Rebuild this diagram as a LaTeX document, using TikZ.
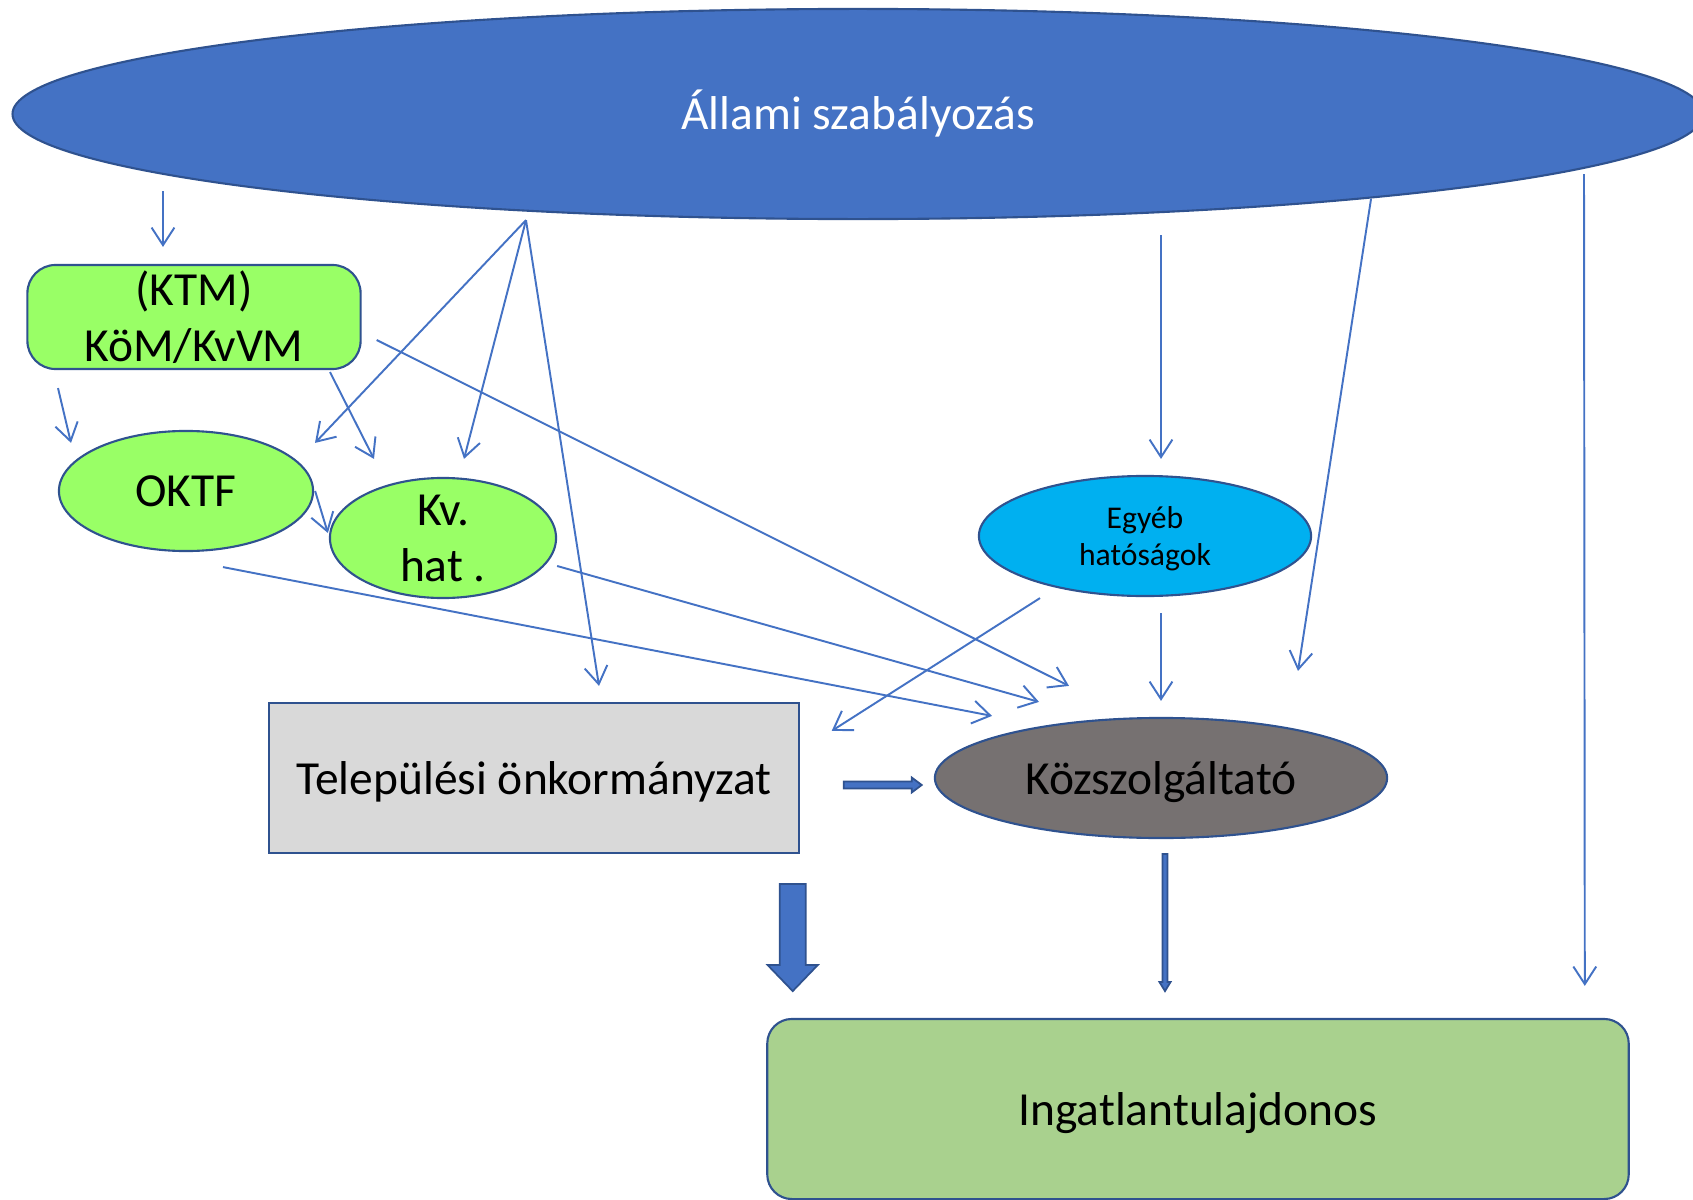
\documentclass[tikz,border=0pt]{standalone}
\usepackage{fontspec}
\setmainfont{Carlito}
\usetikzlibrary{shapes.geometric}
\usetikzlibrary{arrows.meta}
\definecolor{allamic}{HTML}{4472C4}
\definecolor{edgec}{HTML}{2F528F}
\definecolor{hatosagc}{HTML}{99FF66}
\definecolor{egyebc}{HTML}{00B0F0}
\definecolor{onkormc}{HTML}{D9D9D9}
\definecolor{kozszolgc}{HTML}{767171}
\definecolor{ingatlanc}{HTML}{A9D18E}

\begin{document}
\begin{tikzpicture}[x=0.01cm,y=-0.01cm,
  ell/.style={ellipse,draw=edgec,line width=0.6pt,inner sep=-2pt,align=center,font=\fontsize{13.5}{16}\selectfont},
  box/.style={draw=edgec,line width=0.6pt,inner sep=0pt,align=center,font=\fontsize{13.5}{16}\selectfont},
  arr/.style={allamic,line width=0.55pt,-{Straight Barb[length=5pt,width=6.5pt]}},
  blockarr/.style={fill=allamic,draw=edgec,line width=0.5pt}]
\clip (0,0) rectangle (1693,1200);

\node[ell,fill=allamic,text=white,minimum width=16.9cm,minimum height=2.1cm] (allami) at (858,114) {Állami szabályozás};
\node[box,fill=hatosagc,rounded corners=8pt,minimum width=3.33cm,minimum height=1.04cm] (ktm) at (194,317) {(KTM)\\KöM/KvVM};
\node[ell,fill=hatosagc,minimum width=2.54cm,minimum height=1.2cm] (oktf) at (186,491) {OKTF};
\node[ell,fill=hatosagc,text depth=0pt,minimum width=2.26cm,minimum height=1.2cm] (kvhat) at (443,538) {Kv.\\hat .};
\node[ell,fill=egyebc,text depth=0pt,minimum width=3.32cm,minimum height=1.2cm,font=\fontsize{9}{10.8}\selectfont] (egyeb) at (1145,536) {Egyéb\\hatóságok};
\node[box,fill=onkormc,text depth=0pt,minimum width=5.29cm,minimum height=1.5cm] (onkorm) at (534,778) {Települési önkormányzat};
\node[ell,fill=kozszolgc,text depth=0pt,minimum width=4.52cm,minimum height=1.2cm] (kozszolg) at (1161,778) {Közszolgáltató};
\node[box,fill=ingatlanc,text depth=0pt,rounded corners=7pt,minimum width=8.61cm,minimum height=1.8cm] (ingatlan) at (1198,1109) {Ingatlantulajdonos};

\coordinate (apex) at ([shift={(-332,0)}]allami.south);
\draw[arr] ([shift={(-695,-29)}]allami.south) -- ([shift={(-31,-17)}]ktm.north);
\draw[arr] (apex) -- ([shift={(129,13)}]oktf.north);
\draw[arr] (apex) -- ([shift={(21,-18)}]kvhat.north);
\draw[arr] (apex) -- ([shift={(65,-16)}]onkorm.north);
\draw[arr] ([shift={(-136,18)}]ktm.south) -- ([shift={(-115,13)}]oktf.north);
\draw[arr] ([shift={(136,2)}]ktm.south) -- ([shift={(-69,-18)}]kvhat.north);
\draw[arr] ([shift={(15,23)}]ktm.east) -- ([shift={(-92,-31)}]kozszolg.north);
\draw[arr] ([shift={(1,0)}]oktf.east) -- ([shift={(-1,-5)}]kvhat.west);
\draw[arr] ([shift={(37,15)}]oktf.south) -- ([shift={(-169,-1)}]kozszolg.north);
\draw[arr] ([shift={(0,28)}]kvhat.east) -- ([shift={(-122,-15)}]kozszolg.north);
\draw[arr] ([shift={(-105,1)}]egyeb.south) -- ([shift={(32,29)}]onkorm.north east);
\draw[arr] ([shift={(303,15)}]allami.south) -- ([shift={(16,-16)}]egyeb.north);
\draw[arr] ([shift={(16,16)}]egyeb.south) -- ([shift={(0,-16)}]kozszolg.north);
\draw[arr] ([shift={(513,-21)}]allami.south) -- ([shift={(137,-46)}]kozszolg.north);
\draw[arr] ([shift={(726,-46)}]allami.south) -- ([shift={(-45,-32)}]ingatlan.north east);

\coordinate (bigtop) at ([shift={(-7,30)}]onkorm.south east);
\filldraw[blockarr] (bigtop) ++(-13,0) -- ++(0,81) -- ++(-12,0) -- ++(25,26) -- ++(25,-26) -- ++(-12,0) -- ++(0,-81) -- cycle;
\coordinate (midtail) at ([shift={(44,7)}]onkorm.east);
\filldraw[blockarr] (midtail) ++(0,-3.5) -- ++(68,0) -- ++(0,-4) -- ++(10,7.5) -- ++(-10,7.5) -- ++(0,-4) -- ++(-68,0) -- cycle;
\coordinate (koztail) at ([shift={(4,15)}]kozszolg.south);
\filldraw[blockarr] (koztail) ++(-2.5,0) -- ++(0,128) -- ++(-3,0) -- ++(5.5,9) -- ++(5.5,-9) -- ++(-3,0) -- ++(0,-128) -- cycle;
\end{tikzpicture}
\end{document}
